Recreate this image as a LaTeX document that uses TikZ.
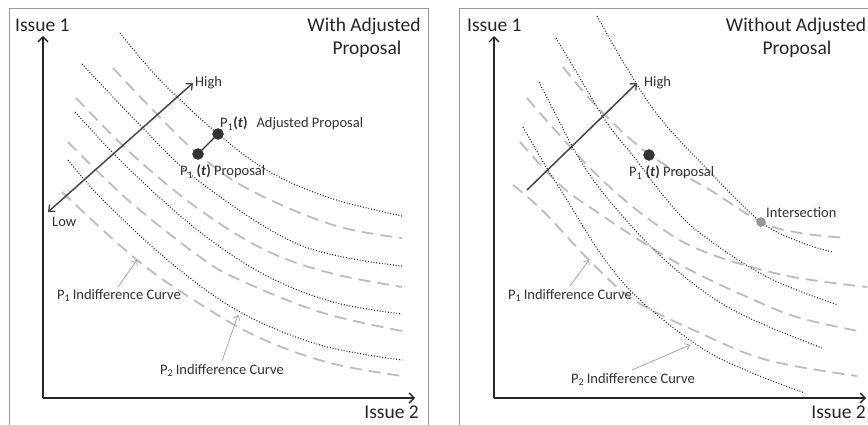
\documentclass[tikz,border=0pt]{standalone}
\usepackage{fontspec}
\setmainfont{Carlito}
\usetikzlibrary{arrows.meta}
\definecolor{framec}{HTML}{9A9A9A}
\definecolor{axisc}{HTML}{262626}
\definecolor{txtc}{HTML}{333333}
\definecolor{dashc}{HTML}{BDBDBD}
\definecolor{dotc}{HTML}{1A1A1A}
\tikzset{
  frm/.style={draw=framec, line width=1pt},
  axisline/.style={draw=axisc, line width=2pt, -{Straight Barb[length=5pt,width=10pt,line width=1.4pt]}},
  scalearrow/.style={draw=txtc!90, line width=1.5pt},
  p2curve/.style={draw=dotc, line width=1.1pt, dash pattern=on 0.9pt off 1.9pt},
  p1curve/.style={draw=dashc, line width=1.8pt, dash pattern=on 12pt off 7pt},
  bigtxt/.style={inner sep=0pt, text=axisc, font=\fontsize{19.5}{23}\selectfont},
  smalltxt/.style={inner sep=0pt, text=txtc, font=\fontsize{14.5}{17}\selectfont},
  ptr/.style={draw=gray!75, line width=0.7pt, -{Straight Barb[length=4pt,width=7pt,line width=0.7pt]}},
  bigdot/.style={circle, fill=txtc, draw=txtc, inner sep=0pt, minimum size=11pt},
  isdot/.style={circle, fill=gray!80, draw=gray!90, inner sep=0pt, minimum size=9pt},
}
\newcommand{\pone}{P\textsubscript{1}}
\begin{document}
\begin{tikzpicture}[x=1pt,y=-1pt]
\useasboundingbox (0,0) rectangle (868,425);
\clip (0,0) rectangle (868,425);
\fill[white] (0,0) rectangle (868,425);
% ---------------- LEFT PANEL ----------------
\draw[frm] (9,9) rectangle (428,440);
% curves
\draw[p1curve] plot[smooth,tension=0.6] coordinates {(113,68) (150,107) (198,154) (250,190) (333,225) (402,238)};
\draw[p1curve] plot[smooth,tension=0.6] coordinates {(76,98) (135,157) (200,210) (265,250) (330,273) (402,287)};
\draw[p1curve] plot[smooth,tension=0.6] coordinates {(68,142) (128,200) (200,257) (240,280) (320,312) (402,331)};
\draw[p1curve] plot[smooth,tension=0.6] coordinates {(62,192) (137,260) (200,304) (260,338) (330,363) (402,376)};
\draw[p2curve] plot[smooth,tension=0.6] coordinates {(120,33) (160,80) (218,134) (270,172) (330,198) (402,216)};
\draw[p2curve] plot[smooth,tension=0.6] coordinates {(82,64) (140,125) (200,182) (300,245) (402,266)};
\draw[p2curve] plot[smooth,tension=0.6] coordinates {(75,112) (130,170) (200,232) (265,275) (333,302) (402,314)};
\draw[p2curve] plot[smooth,tension=0.6] coordinates {(68,160) (103,200) (170,262) (240,312) (320,345) (402,360)};
% axes
\coordinate (oL) at (43,398);
\coordinate (yL) at (43,36);
\coordinate (xL) at (415,398);
\draw[axisline] (oL) -- (yL);
\draw[axisline] (oL) -- (xL);
\node[bigtxt, anchor=base west] (i1L) at (15,32) {Issue 1};
\node[bigtxt, anchor=base east] (i2L) at (419,418) {Issue 2};
\node[bigtxt, anchor=base] (tL1) at (364,32) {With Adjusted};
\node[bigtxt, anchor=base] (tL2) at (367,55) {Proposal};
% high-low scale
\coordinate (lowL) at (48,212);
\coordinate (highL) at (193,83);
\draw[scalearrow, {Straight Barb[length=5pt,width=9pt,line width=1.3pt]}-{Straight Barb[length=5pt,width=9pt,line width=1.3pt]}] (lowL) -- (highL);
\node[smalltxt, anchor=base west] (hiL) at (195,87) {High};
\node[smalltxt, anchor=base west] (loL) at (52,226) {Low};
% proposals
\node[bigdot] (propL) at (198,154) {};
\node[bigdot] (adjL) at (218,134) {};
\draw[draw=txtc, line width=1.3pt] (propL) -- (adjL);
\node[smalltxt, anchor=base west] (adjlbl) at (220,128) {\pone\textbf{(\textit{t})}\hspace{9pt}Adjusted Proposal};
\node[smalltxt, anchor=base west] (proplblL) at (180,176) {\pone\ \textbf{(\textit{t})} Proposal};
% indifference labels
\node[smalltxt, anchor=base west] (p1L) at (57,299) {\pone\,Indifference Curve};
\node[smalltxt, anchor=base west] (p2L) at (160,374) {P\textsubscript{2}\,Indifference Curve};
\coordinate (p1Ls) at (118,287);
\coordinate (p1Le) at (137,260);
\coordinate (p2Ls) at (222,361);
\coordinate (p2Le) at (238,315);
\draw[ptr] (p1Ls) -- (p1Le);
\draw[ptr] (p2Ls) -- (p2Le);
% ---------------- RIGHT PANEL ----------------
\draw[frm] (459,9) rectangle (880,440);
\draw[p1curve] plot[smooth,tension=0.6] coordinates {(563,67) (600,110) (650,155) (710,190) (761,222) (800,233) (847,238)};
\draw[p1curve] plot[smooth,tension=0.6] coordinates {(527,98) (555,130) (600,178) (650,220) (700,250) (783,275) (867,287)};
\draw[p1curve] plot[smooth,tension=0.6] coordinates {(520,142) (560,185) (597,212) (647,245) (694,272) (754,300) (800,318) (863,332)};
\draw[p1curve] plot[smooth,tension=0.6] coordinates {(513,185) (544,212) (589,260) (634,300) (700,333) (767,360) (857,376)};
\draw[p2curve] plot[smooth,tension=0.6] coordinates {(597,16) (625,65) (660,118) (710,172) (761,222) (800,242) (832,252)};
\draw[p2curve] plot[smooth,tension=0.6] coordinates {(556,38) (577,73) (607,123) (634,157) (667,200) (700,233) (767,277) (838,305)};
\draw[p2curve] plot[smooth,tension=0.6] coordinates {(539,82) (556,115) (580,160) (613,205) (667,262) (733,310) (822,348)};
\draw[p2curve] plot[smooth,tension=0.6] coordinates {(523,127) (545,165) (567,200) (603,257) (640,300) (700,347) (750,372) (805,393)};
\coordinate (oR) at (494,398);
\coordinate (yR) at (494,36);
\coordinate (xR) at (866,398);
\draw[axisline] (oR) -- (yR);
\draw[axisline] (oR) -- (xR);
\node[bigtxt, anchor=base west] (i1R) at (467,32) {Issue 1};
\node[bigtxt, anchor=base east] (i2R) at (866,418) {Issue 2};
\node[bigtxt, anchor=base] (tR1) at (796,32) {Without Adjusted};
\node[bigtxt, anchor=base] (tR2) at (797,55) {Proposal};
\coordinate (lowR) at (527,190);
\coordinate (highR) at (637,83);
\draw[scalearrow, -{Straight Barb[length=5pt,width=9pt,line width=1.3pt]}] (lowR) -- (highR);
\node[smalltxt, anchor=base west] (hiR) at (644,87) {High};
\node[bigdot] (propR) at (649,155) {};
\node[smalltxt, anchor=base west] (proplblR) at (629,177) {\pone\ \textbf{(\textit{t})} Proposal};
\node[isdot] (inter) at (761,222) {};
\node[smalltxt, anchor=base west] (interlbl) at (766,218) {Intersection};
\node[smalltxt, anchor=base west] (p1R) at (508,299) {\pone\,Indifference Curve};
\node[smalltxt, anchor=base west] (p2R) at (571,383) {P\textsubscript{2}\,Indifference Curve};
\coordinate (p1Rs) at (570,286);
\coordinate (p1Re) at (589,260);
\coordinate (p2Rs) at (632,370);
\coordinate (p2Re) at (690,345);
\draw[ptr] (p1Rs) -- (p1Re);
\draw[ptr] (p2Rs) -- (p2Re);
\end{tikzpicture}
\end{document}
